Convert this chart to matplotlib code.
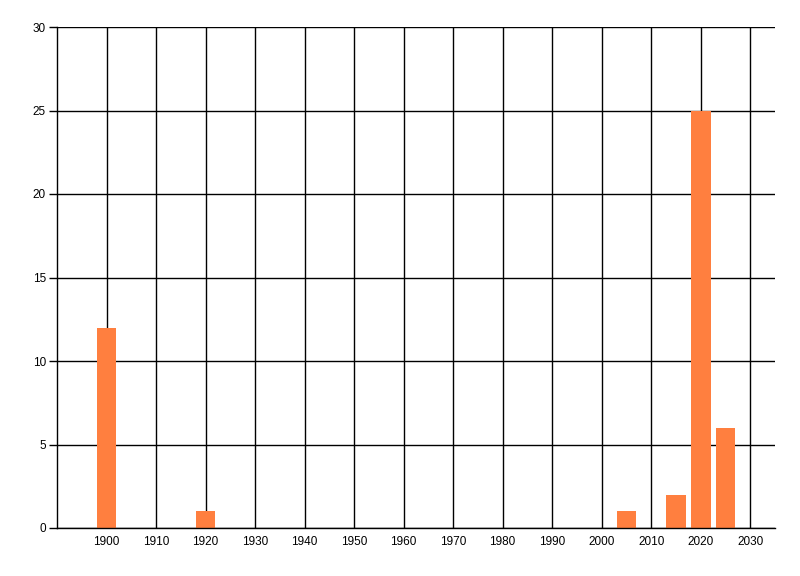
import matplotlib
matplotlib.use("Agg")
import matplotlib.pyplot as plt

years = [1900, 1920, 2005, 2015, 2020, 2025]
counts = [12, 1, 1, 2, 25, 6]
x_ticks = [1900, 1910, 1920, 1930, 1940, 1950, 1960, 1970, 1980, 1990, 2000, 2010, 2020, 2030]
y_ticks = [0, 5, 10, 15, 20, 25, 30]

plt.rcParams['font.family'] = ['Liberation Sans', 'DejaVu Sans']
fig = plt.figure(figsize=(8, 5.76), dpi=100)
ax = fig.add_axes([57/800, 1 - 528/576, (775 - 57)/800, (528 - 27)/576])

ax.bar(years, counts, width=4, color='#FF7F3F', zorder=3)
ax.set_xlim(1890, 2035)
ax.set_ylim(0, 30)
ax.set_xticks(x_ticks)
ax.set_yticks(y_ticks)
ax.grid(True, color='black', linewidth=1, zorder=0)
ax.set_axisbelow(True)
for s in ['top', 'right']:
    ax.spines[s].set_visible(False)
for s in ['left', 'bottom']:
    ax.spines[s].set_linewidth(1)
    ax.spines[s].set_zorder(5)
ax.tick_params(axis='x', length=0, pad=6, labelsize=8.5)
ax.tick_params(axis='y', length=6, width=1, pad=2, labelsize=8.5)

fig.savefig('out.png', dpi=100)
